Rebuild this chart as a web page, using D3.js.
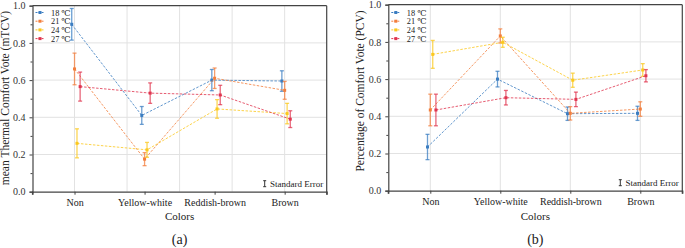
<!DOCTYPE html>
<html>
<head>
<meta charset="utf-8">
<script src="https://cdn.jsdelivr.net/npm/d3@7"></script>
<style>
  body { margin: 0; background: #fff; }
  svg text { font-family: "Liberation Serif", "Times New Roman", Tinos, "DejaVu Serif", serif; fill: #222; }
</style>
</head>
<body>
<div class="container"></div>
<script>

const categories = ["Non", "Yellow-white", "Reddish-brown", "Brown"];
const seriesNames = ["18 \u2103", "21 \u2103", "24 \u2103", "27 \u2103"];
const seriesColors = ["#3b7dc1", "#f37e3c", "#fbc81e", "#e0354f"];
const seriesOffsets = [-0.04, 0, 0.035, 0.08];

// (a) mean Thermal Comfort Vote
const mtcvValues = [
	[0.90, 0.41, 0.60, 0.595],
	[0.66, 0.175, 0.61, 0.545],
	[0.26, 0.225, 0.445, 0.42],
	[0.565, 0.53, 0.52, 0.39]
];
const mtcvErrors = [
	[0.085, 0.048, 0.057, 0.055],
	[0.085, 0.035, 0.055, 0.048],
	[0.078, 0.04, 0.05, 0.055],
	[0.078, 0.055, 0.052, 0.045]
];

// (b) Percentage of Comfort Vote
const pcvValues = [
	[0.235, 0.60, 0.414, 0.416],
	[0.434, 0.832, 0.416, 0.439],
	[0.733, 0.798, 0.594, 0.649],
	[0.434, 0.50, 0.491, 0.618]
];
const pcvErrors = [
	[0.068, 0.042, 0.036, 0.038],
	[0.085, 0.038, 0.036, 0.039],
	[0.075, 0.027, 0.038, 0.034],
	[0.085, 0.039, 0.039, 0.033]
];

const yMajor = [0, 0.2, 0.4, 0.6, 0.8, 1.0];
const yMinor = [0.1, 0.3, 0.5, 0.7, 0.9];

const panels = [
	{ tag: "(a)", title: "mean Thermal Comfort Vote (mTCV)", values: mtcvValues, errors: mtcvErrors,
	  left: 32.5, right: 326.7, top: 5.7, bottom: 191.7, titleX: 9, titleY: 98,
	  vgrid: [1, 1.75, 2.5, 3.25, 4], legendY: 12.5, legendStep: 8.7 },
	{ tag: "(b)", title: "Percentage of Comfort Vote (PCV)", values: pcvValues, errors: pcvErrors,
	  left: 388.3, right: 682.3, top: 4.7, bottom: 190.7, titleX: 363.5, titleY: 91,
	  vgrid: [1, 2, 3, 4], legendY: 12.5, legendStep: 8.7 }
];

const svg = d3.select(".container").append("svg")
	.attr("width", 685)
	.attr("height", 248);

panels.forEach(function(p) {
	const g = svg.append("g");

	const x = d3.scaleLinear().domain([0.4, 4.6]).range([p.left, p.right]);
	const y = d3.scaleLinear().domain([0, 1]).range([p.bottom, p.top]);

	// grid
	g.append("g").selectAll("line")
		.data(yMajor.slice(1, -1)).enter()
		.append("line")
			.attr("x1", p.left).attr("x2", p.right)
			.attr("y1", (d) => y(d)).attr("y2", (d) => y(d))
			.style("stroke", "#e2e2e2").style("stroke-width", 1);

	g.append("g").selectAll("line")
		.data(p.vgrid).enter()
		.append("line")
			.attr("x1", (d) => x(d)).attr("x2", (d) => x(d))
			.attr("y1", p.top).attr("y2", p.bottom)
			.style("stroke", "#e2e2e2").style("stroke-width", 1);

	// frame
	g.append("line").attr("x1", p.left).attr("x2", p.right).attr("y1", p.top).attr("y2", p.top)
		.style("stroke", "#444").style("stroke-width", 1.2);
	g.append("line").attr("x1", p.right).attr("x2", p.right).attr("y1", p.top).attr("y2", p.bottom + 3)
		.style("stroke", "#444").style("stroke-width", 1.2);
	g.append("line").attr("x1", p.left).attr("x2", p.left).attr("y1", p.bottom).attr("y2", p.bottom + 3)
		.style("stroke", "#444").style("stroke-width", 1.2);

	// axes
	const yAxis = g.append("g")
		.attr("transform", `translate(${p.left},0)`)
		.call(d3.axisLeft(y).tickValues(yMajor).tickSize(3).tickPadding(4).tickFormat(d3.format(".1f")));
	g.append("g")
		.attr("transform", `translate(${p.left},0)`)
		.call(d3.axisLeft(y).tickValues(yMinor).tickSize(2).tickFormat(""))
		.select(".domain").remove();

	const xAxis = g.append("g")
		.attr("transform", `translate(0,${p.bottom})`)
		.call(d3.axisBottom(x).tickValues([1, 2, 3, 4]).tickSize(3).tickPadding(4)
			.tickFormat((d) => categories[d - 1]));

	g.selectAll(".domain").style("stroke", "#444").style("stroke-width", 1.2);
	g.selectAll(".tick line").style("stroke", "#444");
	yAxis.selectAll("text").style("font-size", "10px").style("fill", "#333");
	xAxis.selectAll("text").style("font-size", "10px").style("fill", "#222");

	// titles
	g.append("text")
		.text(p.title)
		.attr("transform", `translate(${p.titleX},${p.titleY}) rotate(-90)`)
		.attr("text-anchor", "middle")
		.style("font-size", "11.5px");

	g.append("text")
		.text("Colors")
		.attr("x", (p.left + p.right) / 2)
		.attr("y", 220)
		.attr("text-anchor", "middle")
		.style("font-size", "11px");

	g.append("text")
		.text(p.tag)
		.attr("x", (p.left + p.right) / 2)
		.attr("y", 243.5)
		.attr("text-anchor", "middle")
		.style("font-size", "14px");

	// series
	seriesNames.forEach(function(name, s) {
		const pts = p.values[s].map((v, i) => ({ x: x(i + 1 + seriesOffsets[s]), v: v, e: p.errors[s][i] }));
		const color = seriesColors[s];

		g.append("path")
			.datum(pts)
			.attr("d", d3.line().x((d) => d.x).y((d) => y(d.v)))
			.style("fill", "none")
			.style("stroke", color)
			.style("stroke-width", 1)
			.style("stroke-opacity", 0.8)
			.style("stroke-dasharray", "2.5,1.5");

		const bars = g.append("g").selectAll("g")
			.data(pts).enter()
			.append("g")
				.style("stroke", color)
				.style("stroke-opacity", 0.75)
				.style("stroke-width", 1.3);
		bars.append("line")
			.attr("x1", (d) => d.x).attr("x2", (d) => d.x)
			.attr("y1", (d) => y(d.v - d.e)).attr("y2", (d) => y(d.v + d.e));
		bars.append("line")
			.attr("x1", (d) => d.x - 2).attr("x2", (d) => d.x + 2)
			.attr("y1", (d) => y(d.v + d.e)).attr("y2", (d) => y(d.v + d.e));
		bars.append("line")
			.attr("x1", (d) => d.x - 2).attr("x2", (d) => d.x + 2)
			.attr("y1", (d) => y(d.v - d.e)).attr("y2", (d) => y(d.v - d.e));

		g.append("g").selectAll("rect")
			.data(pts).enter()
			.append("rect")
				.attr("x", (d) => d.x - 1.5)
				.attr("y", (d) => y(d.v) - 1.5)
				.attr("width", 3)
				.attr("height", 3)
				.style("fill", color);

		// legend entry
		const ly = p.legendY + s * p.legendStep;
		const lx = p.left + 3;
		g.append("line")
			.attr("x1", lx).attr("x2", lx + 9)
			.attr("y1", ly).attr("y2", ly)
			.style("stroke", color).style("stroke-width", 1).style("stroke-dasharray", "2,1");
		g.append("rect")
			.attr("x", lx + 3).attr("y", ly - 1.5)
			.attr("width", 3).attr("height", 3)
			.style("fill", color);
		g.append("text")
			.text(name)
			.attr("x", lx + 15.5)
			.attr("y", ly + 3)
			.style("font-size", "8.3px");
	});

	// standard error key
	const sx = p.right - 62;
	const sy = p.bottom - 8;
	const key = g.append("g").style("stroke", "#333").style("stroke-width", 1);
	key.append("line").attr("x1", sx).attr("x2", sx).attr("y1", sy - 3).attr("y2", sy + 3);
	key.append("line").attr("x1", sx - 1.5).attr("x2", sx + 1.5).attr("y1", sy - 3).attr("y2", sy - 3);
	key.append("line").attr("x1", sx - 1.5).attr("x2", sx + 1.5).attr("y1", sy + 3).attr("y2", sy + 3);
	g.append("text")
		.text("Standard Error")
		.attr("x", p.right - 3.5)
		.attr("y", sy + 3)
		.attr("text-anchor", "end")
		.style("font-size", "9px");
});

</script>
</body>
</html>
